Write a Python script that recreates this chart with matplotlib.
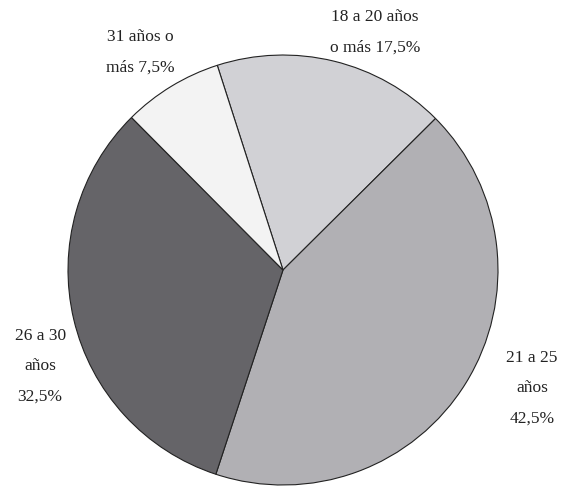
import matplotlib.pyplot as plt

# datos del gráfico
etiquetas = ['18 a 20 años\no más 17,5%', '21 a 25\naños\n42,5%',
             '26 a 30\naños\n32,5%', '31 años o\nmás 7,5%']
porcentajes = [17.5, 42.5, 32.5, 7.5]
colores = ['#d1d1d5', '#b1b0b4', '#656468', '#f3f3f3']

# posiciones de las etiquetas (coordenadas del eje)
pos_etiquetas = [(0.428, 1.107), (1.158, -0.549), (-1.130, -0.447), (-0.665, 1.014)]

fig = plt.figure(figsize=(5.72, 4.93), dpi=100)
ax = fig.add_axes([0.1189, 0.0162, 0.7517, 0.8722])

ax.pie(porcentajes, colors=colores, startangle=107.8, counterclock=False,
       radius=1, wedgeprops=dict(edgecolor='#222222', linewidth=0.8))

for texto, (x, y) in zip(etiquetas, pos_etiquetas):
    ax.text(x, y, texto, ha='center', va='center', fontsize=12.5,
            family='Liberation Serif', color='#222222', linespacing=2.2,
            clip_on=False)

ax.set_xlim(-1, 1)
ax.set_ylim(-1, 1)
ax.set_aspect('equal')
ax.axis('off')

plt.savefig('out.png', dpi=100)
